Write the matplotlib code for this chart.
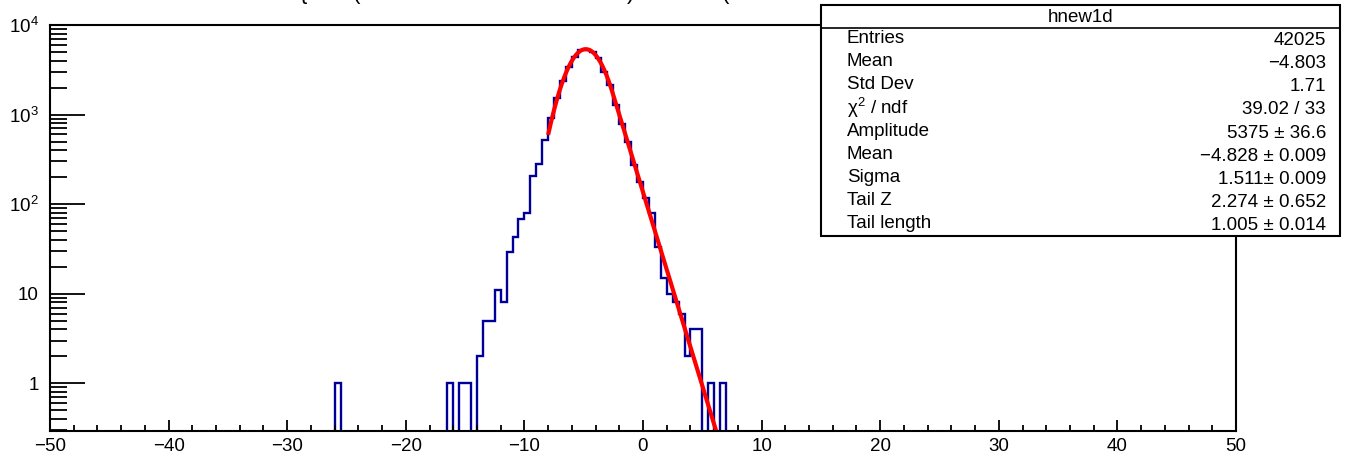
import numpy as np
import matplotlib
matplotlib.use("Agg")
import matplotlib.pyplot as plt
from matplotlib.ticker import FixedLocator, LogLocator, NullFormatter, FixedFormatter
from matplotlib.patches import Rectangle
from matplotlib.lines import Line2D

# ---------------- data ----------------
hist_name = "hnew1d"
x_min, x_max, n_bins = -50.0, 50.0, 200
# lower edges of non-empty bins and their contents
bin_low = [-26.0, -16.5, -15.5, -15.0, -14.0, -13.5, -13.0, -12.5, -12.0, -11.5,
           -11.0, -10.5, -10.0, -9.5, -9.0, -8.5, -8.0, -7.5, -7.0, -6.5,
           -6.0, -5.5, -5.0, -4.5, -4.0, -3.5, -3.0, -2.5, -2.0, -1.5,
           -1.0, -0.5, 0.0, 0.5, 1.0, 1.5, 2.0, 2.5, 3.0, 3.5,
           4.0, 4.5, 5.5, 6.5]
bin_count = [1, 1, 1, 1, 2, 5, 5, 11, 8, 29,
             43, 68, 80, 207, 278, 515, 907, 1515, 2366, 3365,
             4416, 5230, 5300, 5000, 4240, 3005, 2133, 1277, 783, 497,
             273, 178, 116, 79, 33, 15, 10, 8, 6, 2,
             4, 4, 1, 1]

# fit result (Gaussian core + exponential tail)
fit_amplitude = 5375.0
fit_mean = -4.828
fit_sigma = 1.511
fit_tail_z = 2.274
fit_tail_length = 1.005
fit_range = (-8.0, 10.0)

stat_labels = ["Entries", "Mean", "Std Dev", "\u03c7$^{2}$ / ndf", "Amplitude",
               "Mean", "Sigma", "Tail Z", "Tail length"]
stat_values = ["42025", "\u22124.803", "1.71", "39.02 / 33", "5375 \u00b1 36.6",
               "\u22124.828 \u00b1 0.009", "1.511\u00b1 0.009", "2.274 \u00b1 0.652",
               "1.005 \u00b1 0.014"]

x_ticks = [-50, -40, -30, -20, -10, 0, 10, 20, 30, 40, 50]
y_ticks = [1, 10, 100, 1000, 10000]
y_tick_labels = ["1", "10", "$10^{2}$", "$10^{3}$", "$10^{4}$"]
title_fragments = ["{", "(", ")", "("]
# --------------------------------------

plt.rcParams["font.family"] = ["Liberation Sans", "DejaVu Sans"]
plt.rcParams["mathtext.fontset"] = "custom"
plt.rcParams["mathtext.rm"] = "Liberation Sans"
plt.rcParams["mathtext.it"] = "Liberation Sans"
plt.rcParams["mathtext.bf"] = "Liberation Sans"

FS = 13.5
W, H, DPI = 1364, 462, 100
fig = plt.figure(figsize=(W / DPI, H / DPI), dpi=DPI)
fig.patch.set_facecolor("white")

L, R, T, B = 50, 1236, 25, 431
ax = fig.add_axes([L / W, 1 - B / H, (R - L) / W, (B - T) / H])

edges = np.linspace(x_min, x_max, n_bins + 1)
counts = np.zeros(n_bins)
for lo, c in zip(bin_low, bin_count):
    idx = int(round((lo - x_min) / (edges[1] - edges[0])))
    counts[idx] = c
draw_counts = np.where(counts > 0, counts, 1e-3)

ax.stairs(draw_counts, edges, color="#000099", linewidth=1.7, baseline=None)

def fit_func(x):
    core = fit_amplitude * np.exp(-0.5 * ((x - fit_mean) / fit_sigma) ** 2)
    x0 = fit_mean + fit_tail_z
    a0 = fit_amplitude * np.exp(-0.5 * (fit_tail_z / fit_sigma) ** 2)
    tail = a0 * np.exp(-(x - x0) / fit_tail_length)
    return np.where(x < x0, core, tail)

xf = np.linspace(fit_range[0], fit_range[1], 600)
ax.plot(xf, fit_func(xf), color="#ff0000", linewidth=3.0, solid_capstyle="butt")

ax.set_yscale("log")
ax.set_xlim(x_min, x_max)
ax.set_ylim(0.294, 1.0e4)

ax.xaxis.set_major_locator(FixedLocator(x_ticks))
ax.xaxis.set_minor_locator(FixedLocator(np.arange(-50, 51, 2)))
ax.yaxis.set_major_locator(FixedLocator(y_ticks))
ax.yaxis.set_major_formatter(FixedFormatter(y_tick_labels))
ax.yaxis.set_minor_locator(LogLocator(base=10, subs=np.arange(2, 10), numticks=20))
ax.yaxis.set_minor_formatter(NullFormatter())

ax.tick_params(axis="x", which="major", direction="in", length=8, width=1.3,
               labelsize=FS, pad=5, top=False)
ax.tick_params(axis="x", which="minor", direction="in", length=4, width=1.3, top=False)
ax.tick_params(axis="y", which="major", direction="in", length=25, width=1.3,
               labelsize=FS, pad=8, right=False)
ax.tick_params(axis="y", which="minor", direction="in", length=12.5, width=1.3, right=False)

for s in ax.spines.values():
    s.set_linewidth(1.5)
    s.set_color("black")

# partially visible title (cut off at top of canvas in the reference)
for frag, px in zip(title_fragments, [303, 356, 631, 725]):
    fig.text(px / W, 1 + 1 / H, frag, fontsize=16, ha="center", va="baseline")

# stats box
bx0, by0, bx1, by1 = 821, 5, 1340, 236
box = Rectangle((bx0 / W, 1 - by1 / H), (bx1 - bx0) / W, (by1 - by0) / H,
                transform=fig.transFigure, facecolor="white", edgecolor="black",
                linewidth=1.5, zorder=5)
fig.add_artist(box)
hdr_y = 28
fig.add_artist(Line2D([bx0 / W, bx1 / W], [1 - hdr_y / H, 1 - hdr_y / H],
                      transform=fig.transFigure, color="black", linewidth=1.2, zorder=6))
fig.text((bx0 + bx1) / 2 / W, 1 - 17 / H, hist_name, fontsize=FS,
         ha="center", va="center", zorder=7)
row_h = (by1 - hdr_y) / len(stat_labels)
for i, (lab, val) in enumerate(zip(stat_labels, stat_values)):
    yc = hdr_y + row_h * (i + 0.5)
    fig.text(847 / W, 1 - (yc - 1) / H, lab, fontsize=FS, ha="left", va="center", zorder=7)
    fig.text(1326 / W, 1 - (yc + 1) / H, val, fontsize=FS, ha="right", va="center", zorder=7)

fig.savefig("out.png", dpi=DPI, facecolor="white")
